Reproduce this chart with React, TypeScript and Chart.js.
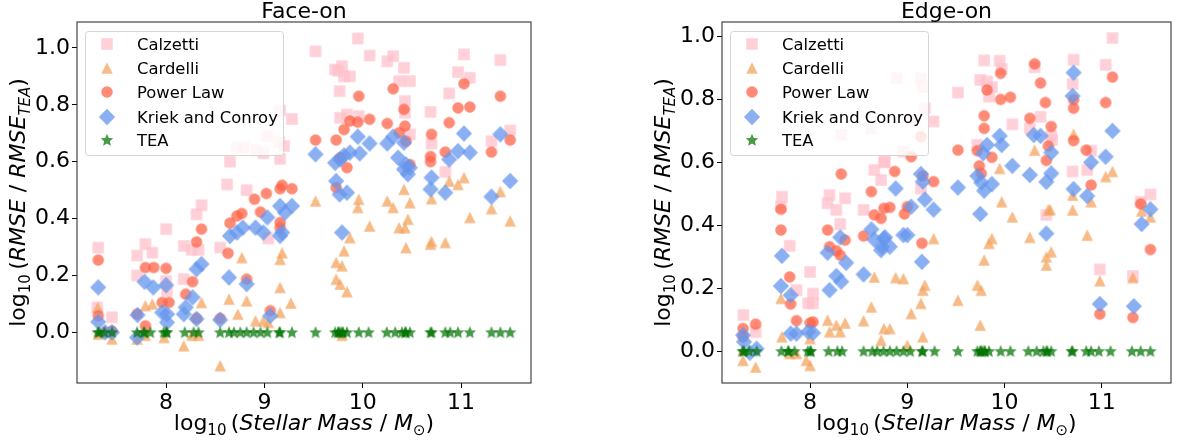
import React, { useEffect, useRef } from 'react';
import { Chart, registerables } from 'chart.js';

Chart.register(...registerables);

const FONT = '"DejaVu Sans", sans-serif';

// ---------- data ----------
const xTicks = [8, 9, 10, 11];
const yTicks = [0, 0.2, 0.4, 0.6, 0.8, 1.0];
const seriesNames = ['Calzetti', 'Cardelli', 'Power Law', 'Kriek and Conroy', 'TEA'];

// galaxy stellar masses, log10(M*/Msun)
const galaxyMass = [7.305, 7.32, 7.373, 7.451, 7.705, 7.772, 7.78, 7.84, 7.976, 8.0, 8.01, 8.19, 8.28, 8.33,
  8.55, 8.64, 8.69, 8.755, 8.82, 8.89, 8.96, 9.03, 9.15, 9.16, 9.28, 9.52, 9.72, 9.75, 9.755, 9.77, 9.79, 9.8,
  9.84, 9.96, 10.06, 10.245, 10.33, 10.4, 10.43, 10.44, 10.48, 10.69, 10.7, 10.84, 10.89, 10.97, 11.09, 11.31,
  11.4, 11.5];
// TEA relative to itself
const teaRatio = [0, 0, 0, 0, 0, 0, 0, 0, 0, 0, 0, 0, 0, 0, 0, 0, 0, 0, 0, 0, 0, 0, 0, 0, 0, 0, 0, 0, 0, 0, 0, 0,
  0, 0, 0, 0, 0, 0, 0, 0, 0, 0, 0, 0, 0, 0, 0, 0, 0, 0];

// Face-on: [mass, log10(RMSE/RMSE_TEA)]
const faceCalzetti = [[7.31, 0.298], [7.3, 0.088], [7.45, 0.053], [7.705, 0.27], [7.79, 0.31], [7.86, 0.28],
  [7.705, 0.2], [8.0, 0.363], [8.0, 0.18], [8.01, 0.146], [8.18, 0.304], [8.18, 0.187], [8.26, 0.29],
  [8.31, 0.415], [8.36, 0.447], [8.33, 0.29], [8.55, 0.298], [8.62, 0.52], [8.65, 0.6], [8.82, 0.5],
  [8.72, 0.65], [8.79, 0.65], [8.92, 0.64], [8.99, 0.63], [9.03, 0.69], [9.04, 0.33], [9.15, 0.67],
  [9.2, 0.655], [9.16, 0.61], [9.16, 0.78], [9.28, 0.75], [9.52, 0.988], [9.95, 1.033], [10.07, 0.973],
  [9.75, 0.92], [9.79, 0.936], [9.81, 0.9], [9.87, 0.9], [9.72, 0.924], [9.766, 0.848], [9.77, 0.754],
  [9.84, 0.766], [9.96, 0.76], [10.25, 0.953], [10.31, 0.971], [10.42, 0.93], [10.37, 0.883], [10.48, 0.883],
  [10.43, 0.813], [10.43, 0.772], [10.48, 0.696], [10.69, 0.775], [10.7, 0.664], [10.84, 0.564],
  [10.88, 0.84], [10.97, 0.915], [11.03, 0.977], [11.09, 0.895], [11.31, 0.672], [11.4, 0.957], [11.5, 0.71]];
const faceCardelli = [[7.305, 0.088], [7.31, -0.006], [7.45, -0.023], [7.705, -0.023], [7.79, 0.094],
  [7.86, 0.1], [7.79, -0.01], [7.98, -0.018], [8.18, -0.047], [8.26, -0.01], [8.33, -0.01], [8.36, 0.105],
  [8.55, -0.117], [8.64, 0.117], [8.73, 0.064], [8.77, 0.263], [8.82, 0.111], [8.91, 0.041], [8.99, 0.041],
  [9.04, 0.035], [9.16, 0.257], [9.18, 0.28], [9.16, 0.158], [9.16, 0.07], [9.27, 0.103], [9.52, 0.462],
  [9.73, 0.246], [9.73, 0.187], [9.77, 0.17], [9.79, 0.234], [9.84, 0.143], [9.81, 0.287], [9.87, 0.333],
  [9.96, 0.468], [9.95, 0.439], [10.07, 0.374], [10.25, 0.462], [10.31, 0.439], [10.37, 0.368],
  [10.42, 0.503], [10.43, 0.368], [10.44, 0.298], [10.46, 0.398], [10.48, 0.456], [10.69, 0.31],
  [10.7, 0.32], [10.7, 0.47], [10.84, 0.316], [10.88, 0.532], [10.97, 0.52], [11.03, 0.544], [11.09, 0.404],
  [11.31, 0.435], [11.4, 0.495], [11.5, 0.392], [9.79, -0.01]];
const facePowerLaw = [[7.31, 0.254], [7.31, 0.058], [7.38, 0.0], [7.45, 0.005], [7.705, 0.064], [7.79, 0.228],
  [7.875, 0.228], [7.79, 0.023], [8.0, 0.225], [7.96, 0.105], [8.03, 0.105], [8.2, 0.134], [8.27, 0.178],
  [8.31, 0.318], [8.36, 0.363], [8.31, 0.049], [8.55, 0.049], [8.63, 0.278], [8.65, 0.384], [8.72, 0.409],
  [8.77, 0.418], [8.82, 0.187], [8.9, 0.468], [8.96, 0.423], [9.02, 0.488], [9.06, 0.076], [9.16, 0.505],
  [9.18, 0.517], [9.28, 0.505], [9.16, 0.386], [9.16, 0.368], [9.52, 0.676], [9.73, 0.676], [9.77, 0.614],
  [9.81, 0.713], [9.84, 0.579], [9.87, 0.743], [9.96, 0.83], [9.95, 0.739], [10.07, 0.749], [9.73, 0.509],
  [10.25, 0.734], [10.31, 0.856], [10.37, 0.702], [10.42, 0.784], [10.43, 0.725], [10.44, 0.672],
  [10.48, 0.59], [10.7, 0.696], [10.69, 0.618], [10.69, 0.6], [10.88, 0.737], [10.84, 0.634], [10.97, 0.789],
  [11.03, 0.874], [11.09, 0.792], [11.31, 0.634], [11.4, 0.83], [11.5, 0.676]];
const faceKriek = [[7.31, 0.158], [7.31, 0.037], [7.38, 0.0], [7.45, 0.0], [7.705, -0.018], [7.71, 0.061],
  [7.78, 0.178], [7.87, 0.158], [8.0, 0.166], [7.96, 0.07], [8.01, 0.064], [8.01, 0.035], [8.18, 0.064],
  [8.2, 0.088], [8.27, 0.123], [8.31, 0.222], [8.36, 0.24], [8.31, 0.047], [8.55, 0.044], [8.64, 0.193],
  [8.65, 0.339], [8.72, 0.351], [8.78, 0.368], [8.82, 0.17], [8.91, 0.368], [8.99, 0.351], [9.03, 0.404],
  [9.06, 0.058], [9.16, 0.444], [9.18, 0.351], [9.16, 0.339], [9.21, 0.421], [9.28, 0.444], [9.52, 0.626],
  [9.72, 0.596], [9.77, 0.608], [9.81, 0.622], [9.87, 0.632], [9.95, 0.688], [9.97, 0.629], [10.07, 0.664],
  [10.25, 0.664], [10.31, 0.688], [10.36, 0.614], [10.42, 0.667], [10.44, 0.59], [10.46, 0.556],
  [10.42, 0.573], [10.48, 0.579], [9.73, 0.532], [9.766, 0.485], [9.84, 0.491], [9.79, 0.351], [10.7, 0.544],
  [10.69, 0.503], [10.84, 0.491], [10.88, 0.608], [10.97, 0.637], [11.03, 0.699], [11.09, 0.632],
  [11.31, 0.477], [11.4, 0.696], [11.5, 0.532]];

// Edge-on: [mass, log10(RMSE/RMSE_TEA)]
const edgeCalzetti = [[7.314, 0.115], [7.44, 0.061], [7.71, 0.491], [7.7, 0.46], [7.79, 0.335], [7.86, 0.194],
  [8.0, 0.252], [7.98, 0.152], [8.03, 0.152], [8.03, 0.183], [8.2, 0.496], [8.18, 0.47], [8.36, 0.486],
  [8.27, 0.449], [8.31, 0.404], [8.32, 0.687], [8.55, 0.449], [8.63, 0.708], [8.66, 0.576], [8.76, 0.6],
  [8.73, 0.544], [8.89, 0.867], [9.14, 0.867], [9.16, 0.84], [9.18, 0.772], [9.27, 0.73], [9.04, 0.735],
  [8.96, 0.634], [8.77, 0.602], [9.14, 0.517], [9.52, 0.822], [9.79, 0.924], [9.75, 0.862], [9.82, 0.857],
  [9.87, 0.839], [9.84, 0.809], [9.95, 0.923], [9.97, 0.897], [10.08, 0.721], [10.31, 0.902], [10.26, 0.708],
  [10.37, 0.745], [10.48, 0.684], [10.49, 0.671], [10.71, 0.926], [10.7, 0.849], [10.7, 0.571],
  [10.85, 0.576], [10.89, 0.637], [11.04, 0.91], [11.11, 0.995], [10.43, 0.433], [10.98, 0.26],
  [11.32, 0.239], [11.4, 0.475], [11.5, 0.498], [9.72, 0.655]];
const edgeCardelli = [[7.31, -0.029], [7.44, -0.05], [7.31, 0.003], [7.7, 0.168], [7.71, 0.046],
  [7.79, -0.007], [7.86, -0.007], [7.96, -0.029], [8.0, -0.045], [8.0, 0.04], [8.18, 0.099], [8.2, 0.062],
  [8.27, 0.083], [8.31, 0.062], [8.36, 0.09], [8.55, 0.097], [8.63, 0.141], [8.66, 0.236], [8.73, 0.035],
  [8.76, 0.072], [8.82, 0.072], [8.88, 0.234], [8.96, 0.231], [9.04, 0.12], [9.0, 0.019], [9.14, 0.152],
  [9.16, 0.194], [9.18, 0.21], [9.16, 0.046], [9.27, 0.358], [9.52, 0.162], [9.72, 0.21], [9.76, 0.194],
  [9.75, 0.083], [9.79, 0.29], [9.84, 0.343], [9.87, 0.358], [9.95, 0.581], [9.97, 0.475], [10.08, 0.427],
  [10.26, 0.362], [10.31, 0.639], [10.45, 0.45], [10.47, 0.45], [10.43, 0.274], [10.43, 0.3], [10.48, 0.316],
  [10.71, 0.69], [10.7, 0.496], [10.7, 0.449], [10.85, 0.369], [10.89, 0.475], [11.04, 0.555],
  [11.11, 0.571], [10.98, 0.224], [11.32, 0.234], [11.41, 0.446], [11.5, 0.427]];
const edgePowerLaw = [[7.31, 0.072], [7.31, 0.046], [7.44, 0.086], [7.7, 0.451], [7.7, 0.385], [7.79, 0.236],
  [7.8, 0.15], [7.86, 0.097], [8.0, 0.09], [8.03, 0.093], [8.18, 0.385], [8.2, 0.332], [8.27, 0.319],
  [8.31, 0.305], [8.32, 0.563], [8.36, 0.353], [8.55, 0.366], [8.63, 0.507], [8.66, 0.433], [8.73, 0.422],
  [8.76, 0.454], [8.87, 0.571], [8.82, 0.457], [8.97, 0.436], [9.0, 0.459], [9.04, 0.618], [9.14, 0.682],
  [9.16, 0.557], [9.27, 0.539], [9.15, 0.343], [9.52, 0.639], [9.72, 0.637], [9.79, 0.748], [9.79, 0.708],
  [9.74, 0.589], [9.76, 0.565], [9.82, 0.83], [9.87, 0.616], [9.96, 0.883], [9.96, 0.8], [10.06, 0.807],
  [10.31, 0.913], [10.37, 0.852], [10.42, 0.79], [10.26, 0.74], [10.48, 0.714], [10.45, 0.652],
  [10.43, 0.606], [10.71, 0.799], [10.71, 0.772], [10.71, 0.669], [10.84, 0.639], [10.89, 0.528],
  [11.04, 0.79], [11.11, 0.871], [10.98, 0.118], [11.32, 0.107], [11.4, 0.468], [11.5, 0.323]];
const edgeKriek = [[7.31, 0.051], [7.32, 0.03], [7.38, -0.005], [7.45, 0.008], [7.71, 0.303], [7.7, 0.207],
  [7.8, 0.178], [7.8, 0.056], [7.86, 0.056], [7.98, 0.062], [8.03, 0.058], [8.18, 0.313], [8.2, 0.194],
  [8.27, 0.239], [8.31, 0.362], [8.32, 0.221], [8.37, 0.281], [8.55, 0.244], [8.63, 0.387], [8.66, 0.355],
  [8.73, 0.321], [8.76, 0.358], [8.82, 0.332], [8.88, 0.517], [8.74, 0.332], [8.77, 0.362], [8.96, 0.369],
  [9.0, 0.369], [9.04, 0.459], [9.14, 0.563], [9.16, 0.539], [9.18, 0.482], [9.27, 0.45], [9.15, 0.284],
  [9.52, 0.52], [9.75, 0.436], [9.72, 0.557], [9.79, 0.51], [9.76, 0.536], [9.82, 0.655], [9.78, 0.629],
  [9.87, 0.531], [9.97, 0.655], [9.95, 0.684], [10.08, 0.589], [10.26, 0.56], [10.3, 0.687], [10.37, 0.684],
  [10.43, 0.538], [10.48, 0.565], [10.48, 0.631], [10.43, 0.374], [10.71, 0.885], [10.7, 0.811],
  [10.71, 0.515], [10.85, 0.493], [10.89, 0.6], [11.04, 0.618], [11.11, 0.7], [10.98, 0.15], [11.33, 0.143],
  [11.41, 0.404], [11.5, 0.451]];

// ---------- styling ----------
const MS = 11.5;
const seriesStyle = [
  { kind: 'square', color: 'rgba(255,192,203,0.75)' },
  { kind: 'triangle', color: 'rgba(244,164,96,0.75)' },
  { kind: 'circle', color: 'rgba(255,99,71,0.75)' },
  { kind: 'diamond', color: 'rgba(100,149,237,0.75)' },
  { kind: 'star', color: 'rgba(0,115,0,0.72)' },
];

function makeSprite(kind: string, color: string) {
  const c = document.createElement('canvas');
  c.width = 20;
  c.height = 20;
  const g = c.getContext('2d')!;
  const cx = 10, cy = 10, h = MS / 2;
  g.fillStyle = color;
  g.beginPath();
  if (kind === 'square') g.rect(cx - h, cy - h, MS, MS);
  else if (kind === 'circle') g.arc(cx, cy, h, 0, Math.PI * 2);
  else if (kind === 'triangle') { g.moveTo(cx, cy - h); g.lineTo(cx + h, cy + h); g.lineTo(cx - h, cy + h); g.closePath(); }
  else if (kind === 'diamond') { const d = MS / Math.SQRT2; g.moveTo(cx, cy - d); g.lineTo(cx + d, cy); g.lineTo(cx, cy + d); g.lineTo(cx - d, cy); g.closePath(); }
  else if (kind === 'star') {
    const ro = 6.6, ri = ro * 0.46;
    for (let i = 0; i < 10; i++) {
      const r = i % 2 === 0 ? ro : ri;
      const a = -Math.PI / 2 + (i * Math.PI) / 5;
      const px = cx + r * Math.cos(a), py = cy + 0.4 + r * Math.sin(a);
      if (i === 0) g.moveTo(px, py); else g.lineTo(px, py);
    }
    g.closePath();
  }
  g.fill();
  return c;
}

type Part = { t: string; it?: boolean; sub?: boolean };
const yTitleParts: Part[] = [
  { t: 'log' }, { t: '10', sub: true }, { t: '\u2009(' }, { t: 'RMSE', it: true }, { t: ' / ' },
  { t: 'RMSE', it: true }, { t: 'TEA', it: true, sub: true }, { t: ')' },
];
const xTitleParts: Part[] = [
  { t: 'log' }, { t: '10', sub: true }, { t: '\u2009(' }, { t: 'Stellar Mass', it: true }, { t: ' / ' },
  { t: 'M', it: true }, { t: '\u2299', sub: true }, { t: ')' },
];

function drawRich(ctx: CanvasRenderingContext2D, parts: Part[], size: number, x: number, y: number, rotate: boolean) {
  const fontFor = (p: Part) => `${p.it ? 'italic ' : ''}${p.sub ? Math.round(size * 0.7) : size}px ${FONT}`;
  let total = 0;
  const widths = parts.map((p) => { ctx.font = fontFor(p); const w = ctx.measureText(p.t).width; total += w; return w; });
  ctx.save();
  ctx.translate(x, y);
  if (rotate) ctx.rotate(-Math.PI / 2);
  ctx.fillStyle = '#000';
  ctx.textAlign = 'left';
  ctx.textBaseline = 'alphabetic';
  let cx = -total / 2;
  parts.forEach((p, i) => {
    ctx.font = fontFor(p);
    ctx.fillText(p.t, cx, p.sub ? size * 0.24 : 0);
    cx += widths[i];
  });
  ctx.restore();
}

type Panel = {
  title: string; width: number; area: { left: number; right: number; top: number; bottom: number };
  yMin: number; yMax: number; xMin: number; xMax: number; series: number[][][];
  legend: { x: number; y: number; w: number; h: number }; yTitleX: number;
};

const facePanel: Panel = {
  title: 'Face-on', width: 588, area: { left: 77, right: 531, top: 22, bottom: 383 },
  yMin: -0.178, yMax: 1.091, xMin: 7.094, xMax: 11.712,
  series: [faceCalzetti, faceCardelli, facePowerLaw, faceKriek],
  legend: { x: 85, y: 31, w: 198, h: 124 }, yTitleX: 25,
};
const edgePanel: Panel = {
  title: 'Edge-on', width: 589, area: { left: 134, right: 587, top: 22, bottom: 383 },
  yMin: -0.101, yMax: 1.046, xMin: 7.094, xMax: 11.712,
  series: [edgeCalzetti, edgeCardelli, edgePowerLaw, edgeKriek],
  legend: { x: 142, y: 31, w: 198, h: 124 }, yTitleX: 82,
};

function buildChart(canvas: HTMLCanvasElement, panel: Panel) {
  const sprites = seriesStyle.map((s) => makeSprite(s.kind, s.color));
  const teaPoints = galaxyMass.map((m, i) => ({ x: m, y: teaRatio[i] }));
  const datasets = seriesNames.map((name, i) => ({
    label: name,
    data: i < 4 ? panel.series[i].map(([x, y]) => ({ x, y })) : teaPoints,
    pointStyle: sprites[i] as any,
    pointRadius: 6,
    pointHoverRadius: 6,
    borderWidth: 0,
    backgroundColor: seriesStyle[i].color,
    order: 5 - i,
  }));
  const a = panel.area;
  const overlay = {
    id: 'overlay',
    afterDatasetsDraw(chart: any) {
      const ctx: CanvasRenderingContext2D = chart.ctx;
      const ca = chart.chartArea;
      ctx.save();
      // frame
      ctx.strokeStyle = '#333';
      ctx.lineWidth = 1.1;
      ctx.strokeRect(ca.left, ca.top, ca.right - ca.left, ca.bottom - ca.top);
      // legend
      const L = panel.legend;
      ctx.beginPath();
      (ctx as any).roundRect(L.x + 0.5, L.y + 0.5, L.w, L.h, 3);
      ctx.fillStyle = 'rgba(255,255,255,0.8)';
      ctx.fill();
      ctx.strokeStyle = '#d4d4d4';
      ctx.lineWidth = 1;
      ctx.stroke();
      ctx.font = `16.4px ${FONT}`;
      ctx.fillStyle = '#000';
      ctx.textAlign = 'left';
      ctx.textBaseline = 'alphabetic';
      const rows = [13, 37, 61, 86, 109];
      seriesNames.forEach((name, i) => {
        const cy = L.y + rows[i];
        ctx.drawImage(sprites[i], L.x + 22 - 10, cy - 10);
        ctx.fillText(name, L.x + 52, cy + 6);
      });
      // titles
      ctx.font = `22px ${FONT}`;
      ctx.textAlign = 'center';
      ctx.fillText(panel.title, (ca.left + ca.right) / 2, 18);
      ctx.restore();
      drawRich(ctx, xTitleParts, 22, (ca.left + ca.right) / 2, 430, false);
      drawRich(ctx, yTitleParts, 22, panel.yTitleX, (ca.top + ca.bottom) / 2, true);
    },
  };
  const tickFont = { family: FONT, size: 22 };
  return new Chart(canvas, {
    type: 'scatter',
    data: { datasets: datasets as any },
    options: {
      responsive: false,
      animation: false,
      devicePixelRatio: 1,
      layout: { padding: { left: 0, top: a.top, right: panel.width - a.right, bottom: 0 } },
      plugins: { legend: { display: false }, tooltip: { enabled: false }, title: { display: false } },
      scales: {
        x: {
          type: 'linear', min: panel.xMin, max: panel.xMax,
          afterFit: (s: any) => { s.height = 446 - a.bottom; },
          afterBuildTicks: (s: any) => { s.ticks = xTicks.map((v) => ({ value: v })); },
          grid: { drawOnChartArea: false, color: '#000', tickLength: 5, lineWidth: 1 },
          border: { display: false },
          ticks: { font: tickFont, color: '#000', padding: 2, maxRotation: 0, autoSkip: false, callback: (v: any) => String(v) },
        },
        y: {
          type: 'linear', min: panel.yMin, max: panel.yMax,
          afterFit: (s: any) => { s.width = a.left; },
          afterBuildTicks: (s: any) => { s.ticks = yTicks.map((v) => ({ value: v })); },
          grid: { drawOnChartArea: false, color: '#000', tickLength: 5, lineWidth: 1 },
          border: { display: false },
          ticks: { font: tickFont, color: '#000', padding: 2, autoSkip: false, callback: (v: any) => Number(v).toFixed(1) },
        },
      },
    } as any,
    plugins: [overlay],
  });
}

export default function App() {
  const leftRef = useRef<HTMLCanvasElement>(null);
  const rightRef = useRef<HTMLCanvasElement>(null);
  useEffect(() => {
    const c1 = buildChart(leftRef.current!, facePanel);
    const c2 = buildChart(rightRef.current!, edgePanel);
    return () => { c1.destroy(); c2.destroy(); };
  }, []);
  return (
    <div style={{ position: 'absolute', left: 0, top: 0, width: 1177, height: 446, background: '#fff' }}>
      <canvas ref={leftRef} width={588} height={446} style={{ position: 'absolute', left: 0, top: 0, width: 588, height: 446 }} />
      <canvas ref={rightRef} width={589} height={446} style={{ position: 'absolute', left: 588, top: 0, width: 589, height: 446 }} />
    </div>
  );
}
